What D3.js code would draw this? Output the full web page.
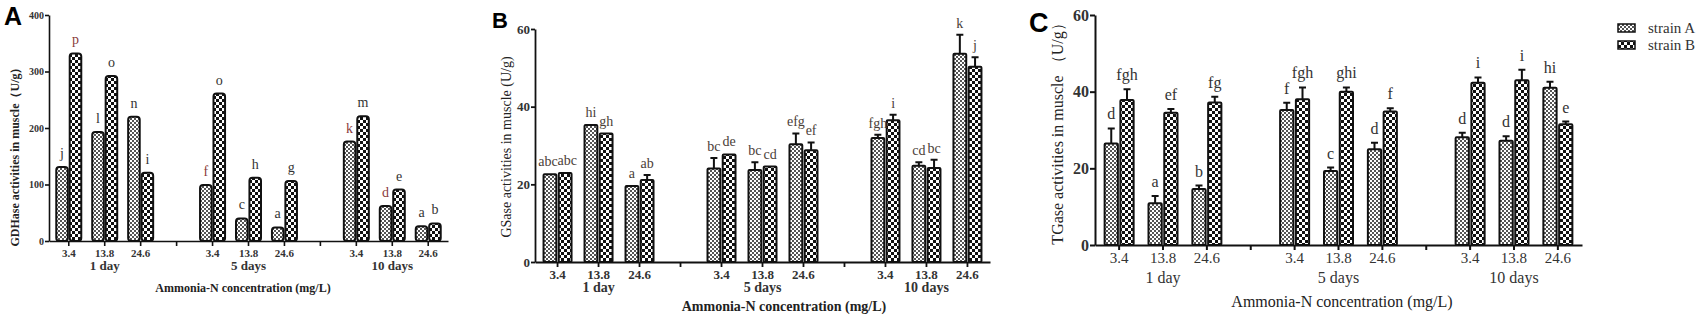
<!DOCTYPE html>
<html>
<head>
<meta charset="utf-8">
<script src="https://cdn.jsdelivr.net/npm/d3@7"></script>
<style>
  body { margin: 0; background: #fff; }
  svg { display: block; }
</style>
</head>
<body>
<div id="chart"></div>
<script>
// ---- data ----
const concs = ["3.4", "13.8", "24.6"];
const days = ["1 day", "5 days", "10 days"];
const strains = ["strain A", "strain B"];

// GDHase (panel A), order: 1 day x3, 5 days x3, 10 days x3
const gdhA = [131, 193, 220, 99, 40, 24, 176, 62, 26];
const gdhB = [332, 292, 121, 261, 112, 106, 221, 91, 31];
const gdhLetA = ["j", "l", "n", "f", "c", "a", "k", "d", "a"];
const gdhLetB = ["p", "o", "i", "o", "h", "g", "m", "e", "b"];

// GSase (panel B)
const gsA = [22.6, 35.3, 19.6, 24.1, 23.7, 30.3, 31.9, 24.8, 53.6];
const gsB = [22.9, 33.1, 21.1, 27.7, 24.6, 28.8, 36.5, 24.2, 50.3];
const gsErrA = [0.2, 0.3, 0.2, 2.7, 2.0, 2.8, 0.9, 0.9, 4.9];
const gsErrB = [0.2, 0.2, 1.3, 0.3, 0.2, 2.0, 1.4, 2.1, 2.4];
const gsLetA = ["abc", "hi", "a", "bc", "bc", "efg", "fgh", "cd", "k"];
const gsLetB = ["abc", "gh", "ab", "de", "cd", "ef", "i", "bc", "j"];

// TGase (panel C)
const tgA = [26.5, 10.9, 14.6, 35.2, 19.3, 25.0, 28.1, 27.2, 41.0];
const tgB = [37.8, 34.5, 37.2, 38.0, 40.0, 34.8, 42.3, 43.0, 31.5];
const tgErrA = [3.9, 1.9, 0.9, 1.9, 0.9, 1.7, 1.2, 1.2, 1.6];
const tgErrB = [2.8, 1.0, 1.5, 3.1, 1.1, 0.9, 1.4, 2.7, 0.7];
const tgLetA = ["d", "a", "b", "f", "c", "d", "d", "d", "hi"];
const tgLetB = ["fgh", "ef", "fg", "fgh", "ghi", "f", "i", "i", "e"];

// x slots: 3 concentrations per day with an empty slot between days
const slots = [];
days.forEach((d, i) => {
  concs.forEach(c => slots.push(d + "|" + c));
  if (i < days.length - 1) slots.push("gap" + i);
});

const svg = d3.select("#chart").append("svg")
  .attr("width", 1702)
  .attr("height", 318);

// bar fill patterns
const defs = svg.append("defs");
const pA = defs.append("pattern").attr("id", "patA")
  .attr("patternUnits", "userSpaceOnUse").attr("width", 4).attr("height", 4);
pA.append("rect").attr("width", 4).attr("height", 4).attr("fill", "#fff");
pA.append("rect").attr("width", 2).attr("height", 2).attr("fill", "#555");
pA.append("rect").attr("x", 2).attr("y", 2).attr("width", 2).attr("height", 2).attr("fill", "#555");

const pB = defs.append("pattern").attr("id", "patB")
  .attr("patternUnits", "userSpaceOnUse").attr("width", 6).attr("height", 6);
pB.append("rect").attr("width", 6).attr("height", 6).attr("fill", "#111");
pB.append("rect").attr("width", 3).attr("height", 3).attr("fill", "#fff");
pB.append("rect").attr("x", 3).attr("y", 3).attr("width", 3).attr("height", 3).attr("fill", "#fff");

const fills = { A: "url(#patA)", B: "url(#patB)" };
const serif = "'Liberation Serif', 'DejaVu Serif', serif";

function drawPanel(cfg) {
  const g = svg.append("g");

  const y = d3.scaleLinear().domain([0, cfg.ymax]).range([cfg.y0, cfg.yTop]);
  const x0 = d3.scaleBand().domain(slots).range([cfg.xL, cfg.xR]).paddingOuter(0.05);
  const x1 = d3.scaleBand().domain(["A", "B"])
    .range([-cfg.pair / 2, cfg.pair / 2]).paddingInner(cfg.gap);

  const rows = [];
  days.forEach((d, i) => {
    concs.forEach((c, j) => {
      const k = i * 3 + j;
      rows.push({ s: "A", slot: d + "|" + c, v: cfg.a[k], e: cfg.ea ? cfg.ea[k] : 0, lab: cfg.la[k], k: k });
      rows.push({ s: "B", slot: d + "|" + c, v: cfg.b[k], e: cfg.eb ? cfg.eb[k] : 0, lab: cfg.lb[k], k: k });
    });
  });
  const cx = d => x0(d.slot) + x0.bandwidth() / 2 + x1(d.s);

  // bars
  g.selectAll(".bar").data(rows).enter().append("rect")
    .attr("x", d => cx(d))
    .attr("y", d => y(d.v))
    .attr("width", x1.bandwidth())
    .attr("height", d => y(0) - y(d.v))
    .attr("rx", cfg.rx)
    .attr("fill", d => fills[d.s])
    .attr("stroke", "#111")
    .attr("stroke-width", 2);

  // upper error bars
  const errs = rows.filter(d => d.e > 0.5);
  g.selectAll(".err").data(errs).enter().append("path")
    .attr("d", d => {
      const m = cx(d) + x1.bandwidth() / 2;
      const top = y(d.v + d.e);
      return "M" + m + "," + y(d.v) + "V" + top + "M" + (m - 3.5) + "," + top + "H" + (m + 3.5);
    })
    .attr("stroke", "#111")
    .attr("stroke-width", 2)
    .attr("fill", "none");

  // significance letters
  g.selectAll(".let").data(rows).enter().append("text")
    .attr("x", d => cx(d) + x1.bandwidth() / 2 + (cfg.letShift ? cfg.letShift(d) : 0))
    .attr("y", d => y(d.v + d.e) - cfg.letGap)
    .attr("text-anchor", "middle")
    .attr("font-family", serif)
    .attr("font-size", cfg.letSize)
    .attr("fill", d => cfg.letColor(d))
    .text(d => d.lab);

  // y axis
  const ya = g.append("g")
    .attr("transform", "translate(" + cfg.xL + ",0)")
    .call(d3.axisLeft(y).tickValues(cfg.yticks).tickSize(cfg.ytLen).tickSizeOuter(0).tickPadding(1));
  ya.selectAll("text")
    .attr("font-family", serif)
    .attr("font-size", cfg.ytSize)
    .attr("font-weight", cfg.ytWeight)
    .attr("fill", "#333");

  // x axis
  const xa = g.append("g")
    .attr("transform", "translate(0," + cfg.y0 + ")")
    .call(d3.axisBottom(x0).tickSize(5).tickSizeOuter(0).tickPadding(cfg.xtPad)
      .tickFormat(d => d.startsWith("gap") ? "" : d.split("|")[1]));
  xa.selectAll("text")
    .attr("font-family", serif)
    .attr("font-size", cfg.xtSize)
    .attr("font-weight", cfg.xtWeight)
    .attr("fill", "#333");
  [ya, xa].forEach(a => {
    a.select(".domain").attr("stroke", "#111").attr("stroke-width", cfg.axisW);
    a.selectAll(".tick line").attr("stroke", "#111").attr("stroke-width", cfg.axisW);
  });

  // day group labels
  g.selectAll(".day").data(days).enter().append("text")
    .attr("x", d => x0(d + "|" + concs[1]) + x0.bandwidth() / 2)
    .attr("y", cfg.dayY)
    .attr("text-anchor", "middle")
    .attr("font-family", serif)
    .attr("font-size", cfg.daySize)
    .attr("font-weight", cfg.dayWeight)
    .attr("fill", "#333")
    .text(d => d);

  // x title
  g.append("text")
    .attr("x", cfg.xtitleX)
    .attr("y", cfg.xtitleY)
    .attr("text-anchor", "middle")
    .attr("font-family", serif)
    .attr("font-size", cfg.xtitleSize)
    .attr("font-weight", cfg.xtitleWeight)
    .attr("fill", "#222")
    .text("Ammonia-N concentration (mg/L)");

  // y title
  g.append("text")
    .attr("transform", "translate(" + cfg.ytitleX + "," + cfg.ytitleY + ") rotate(-90)")
    .attr("text-anchor", "middle")
    .attr("font-family", serif)
    .attr("font-size", cfg.ytitleSize)
    .attr("font-weight", cfg.ytitleWeight)
    .attr("fill", "#222")
    .text(cfg.ytitle);

  // panel letter
  g.append("text")
    .attr("x", cfg.tagX)
    .attr("y", cfg.tagY)
    .attr("font-family", "'Liberation Sans', Arial, sans-serif")
    .attr("font-weight", "bold")
    .attr("font-size", cfg.tagSize)
    .attr("fill", "#000")
    .text(cfg.tag);
}

const redA = new Set(["B0", "A3", "A6", "A7"]);

drawPanel({
  tag: "A", tagX: 4, tagY: 25, tagSize: 25,
  a: gdhA, b: gdhB, la: gdhLetA, lb: gdhLetB,
  ymax: 400, yticks: [0, 100, 200, 300, 400],
  y0: 241, yTop: 15, xL: 49, xR: 448,
  pair: 25, gap: 0.14, rx: 3, axisW: 1.6,
  letGap: 9, letSize: 14,
  letColor: d => redA.has(d.s + d.k) ? "#8a3b3b" : "#333",
  ytSize: 10, ytWeight: "bold", ytLen: 4, xtSize: 11, xtPad: 3, xtWeight: "bold",
  dayY: 270, daySize: 13, dayWeight: "bold",
  xtitleX: 243, xtitleY: 292, xtitleSize: 12, xtitleWeight: "bold",
  ytitle: "GDHase activities in muscle（U/g）", ytitleX: 19, ytitleY: 154,
  ytitleSize: 12, ytitleWeight: "bold"
});

drawPanel({
  tag: "B", tagX: 492, tagY: 28, tagSize: 22,
  a: gsA, b: gsB, ea: gsErrA, eb: gsErrB, la: gsLetA, lb: gsLetB,
  ymax: 60, yticks: [0, 20, 40, 60],
  y0: 262, yTop: 29, xL: 535, xR: 990,
  pair: 28, gap: 0.16, rx: 1, axisW: 1.8,
  letGap: 7, letSize: 14,
  letShift: d => (d.lab.length > 2 && d.k === 0) ? (d.s === "A" ? -2 : 2) : 0,
  letColor: () => "#4a4038",
  ytSize: 13, ytWeight: "bold", ytLen: 4, xtSize: 13, xtPad: 3, xtWeight: "bold",
  dayY: 292, daySize: 14, dayWeight: "bold",
  xtitleX: 784, xtitleY: 311, xtitleSize: 14, xtitleWeight: "bold",
  ytitle: "GSase activities in muscle (U/g)", ytitleX: 511, ytitleY: 147,
  ytitleSize: 14, ytitleWeight: "normal"
});

drawPanel({
  tag: "C", tagX: 1029, tagY: 32, tagSize: 27,
  a: tgA, b: tgB, ea: tgErrA, eb: tgErrB, la: tgLetA, lb: tgLetB,
  ymax: 60, yticks: [0, 20, 40, 60],
  y0: 245, yTop: 15, xL: 1095, xR: 1582,
  pair: 29, gap: 0.16, rx: 1, axisW: 2,
  letGap: 9, letSize: 16,
  letColor: () => "#333",
  ytSize: 16, ytWeight: "bold", ytLen: 5, xtSize: 15, xtPad: 2, xtWeight: "normal",
  dayY: 283, daySize: 16, dayWeight: "normal",
  xtitleX: 1342, xtitleY: 307, xtitleSize: 16, xtitleWeight: "normal",
  ytitle: "TGase activities in muscle （U/g）", ytitleX: 1063, ytitleY: 130,
  ytitleSize: 16, ytitleWeight: "normal"
});

// legend
const legend = svg.append("g").attr("transform", "translate(1618,24)");
legend.selectAll("rect").data(["A", "B"]).enter().append("rect")
  .attr("x", 0)
  .attr("y", (d, i) => i * 17)
  .attr("width", 17)
  .attr("height", 8)
  .attr("fill", d => fills[d])
  .attr("stroke", "#111")
  .attr("stroke-width", 1.5);
legend.selectAll("text").data(strains).enter().append("text")
  .attr("x", 30)
  .attr("y", (d, i) => i * 17 + 9)
  .attr("font-family", serif)
  .attr("font-size", 15)
  .attr("fill", "#333")
  .text(d => d);
</script>
</body>
</html>
